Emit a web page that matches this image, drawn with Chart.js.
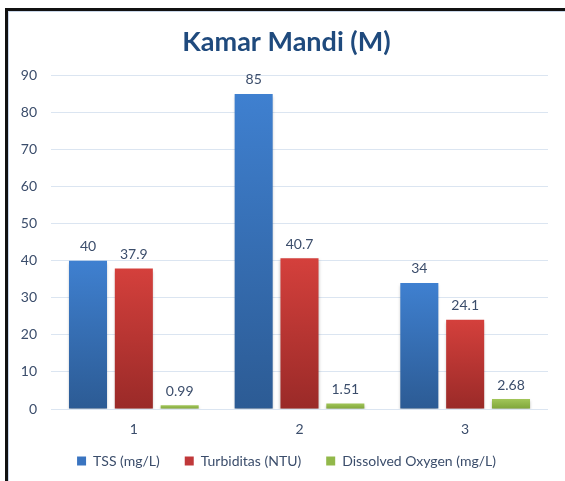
<!DOCTYPE html>
<html>
<head>
    <title>Kamar Mandi (M)</title>
    <script src="https://cdn.jsdelivr.net/npm/chart.js"></script>
    <style>
        html, body { margin: 0; padding: 0; background: #fff; }
        #wrap { position: relative; width: 565px; height: 481px; overflow: hidden; }
        #frame {
            position: absolute; left: 5px; top: 8px; width: 600px; height: 500px;
            border-top: 3px solid #111; border-left: 3px solid #111;
            box-shadow: inset 1px 1px 0 #c9d6e8;
            pointer-events: none;
        }
        canvas { position: absolute; left: 0; top: 0; }
    </style>
</head>
<body>
<div id="wrap">
    <canvas id="myChart" width="565" height="481"></canvas>
    <div id="frame"></div>
</div>

<script>
    // chart data
    const categories = ['1', '2', '3'];
    const tss = [40, 85, 34];
    const turbiditas = [37.9, 40.7, 24.1];
    const dissolvedOxygen = [0.99, 1.51, 2.68];
    const seriesNames = ['TSS (mg/L)', 'Turbiditas (NTU)', 'Dissolved Oxygen (mg/L)'];
    const yTicks = [0, 10, 20, 30, 40, 50, 60, 70, 80, 90];

    const FONT = 'Lato, "Liberation Sans", sans-serif';
    const TEXT = '#3b4d6b';

    // gradient from the top of each bar to its bottom
    function barGradient(light, dark) {
        return function(ctx) {
            const chart = ctx.chart;
            const y = chart.scales.y;
            if (!chart.chartArea || !y || ctx.parsed === undefined) return dark;
            const top = y.getPixelForValue(ctx.parsed.y);
            const bottom = y.getPixelForValue(0);
            if (!isFinite(top) || bottom - top < 1) return dark;
            const g = chart.ctx.createLinearGradient(0, top, 0, bottom);
            g.addColorStop(0, light);
            g.addColorStop(1, dark);
            return g;
        };
    }

    const legendColors = ['#3a74c0', '#c0383a', '#92b84a'];

    // axis boxes are squeezed below, so let their labels spill out
    function noLabelClip(scale) {
        scale._computeLabelArea = () => undefined;
    }

    // value labels above bars + soft shadow under bars
    const barLabels = {
        id: 'barLabels',
        beforeDatasetsDraw(chart) {
            const c = chart.ctx;
            c.save();
            c.shadowColor = 'rgba(0,0,0,0.25)';
            c.shadowBlur = 3;
            c.shadowOffsetY = 2;
        },
        afterDatasetsDraw(chart) {
            const c = chart.ctx;
            c.restore();
            c.save();
            c.font = '14px ' + FONT;
            c.fillStyle = TEXT;
            c.textAlign = 'center';
            c.textBaseline = 'bottom';
            chart.data.datasets.forEach((ds, i) => {
                chart.getDatasetMeta(i).data.forEach((bar, j) => {
                    c.fillText(String(ds.data[j]), bar.x, bar.y - 7);
                });
            });
            c.restore();
        }
    };

    const ctx = document.getElementById('myChart').getContext('2d');
    new Chart(ctx, {
        type: 'bar',
        data: {
            labels: categories,
            datasets: [
                { label: seriesNames[0], data: tss, backgroundColor: barGradient('#3f80d0', '#2c5b94') },
                { label: seriesNames[1], data: turbiditas, backgroundColor: barGradient('#d4403c', '#9a2a28') },
                { label: seriesNames[2], data: dissolvedOxygen, backgroundColor: barGradient('#a2c659', '#7ea53a') }
            ]
        },
        options: {
            responsive: false,
            animation: false,
            categoryPercentage: 0.83,
            barPercentage: 0.83,
            layout: { padding: { left: 25, right: 17, top: 0, bottom: 3 } },
            plugins: {
                title: {
                    display: true,
                    text: 'Kamar Mandi (M)',
                    color: '#1f4a7d',
                    font: { family: FONT, size: 27, weight: 'bold' },
                    padding: { top: 26, bottom: 17 }
                },
                legend: {
                    position: 'bottom',
                    labels: {
                        color: TEXT,
                        font: { family: FONT, size: 14 },
                        boxWidth: 9,
                        boxHeight: 9,
                        padding: 25,
                        generateLabels(chart) {
                            return chart.data.datasets.map((ds, i) => ({
                                text: ds.label,
                                fillStyle: legendColors[i],
                                strokeStyle: legendColors[i],
                                lineWidth: 0,
                                fontColor: TEXT,
                                datasetIndex: i
                            }));
                        }
                    }
                },
                tooltip: { enabled: false }
            },
            scales: {
                x: {
                    grid: { display: false, drawTicks: false },
                    border: { display: false },
                    afterFit(scale) { scale.height = 20; noLabelClip(scale); },
                    ticks: { color: TEXT, font: { family: FONT, size: 14 }, padding: 12 }
                },
                y: {
                    min: 0,
                    max: 90,
                    afterBuildTicks(scale) {
                        scale.ticks = yTicks.map(v => ({ value: v }));
                    },
                    afterFit(scale) { scale.width = 26; noLabelClip(scale); },
                    grid: { color: '#dbe5f1', drawTicks: false },
                    border: { display: false },
                    ticks: { color: TEXT, font: { family: FONT, size: 14 }, padding: 14 }
                }
            }
        },
        plugins: [barLabels]
    });
</script>
</body>
</html>
